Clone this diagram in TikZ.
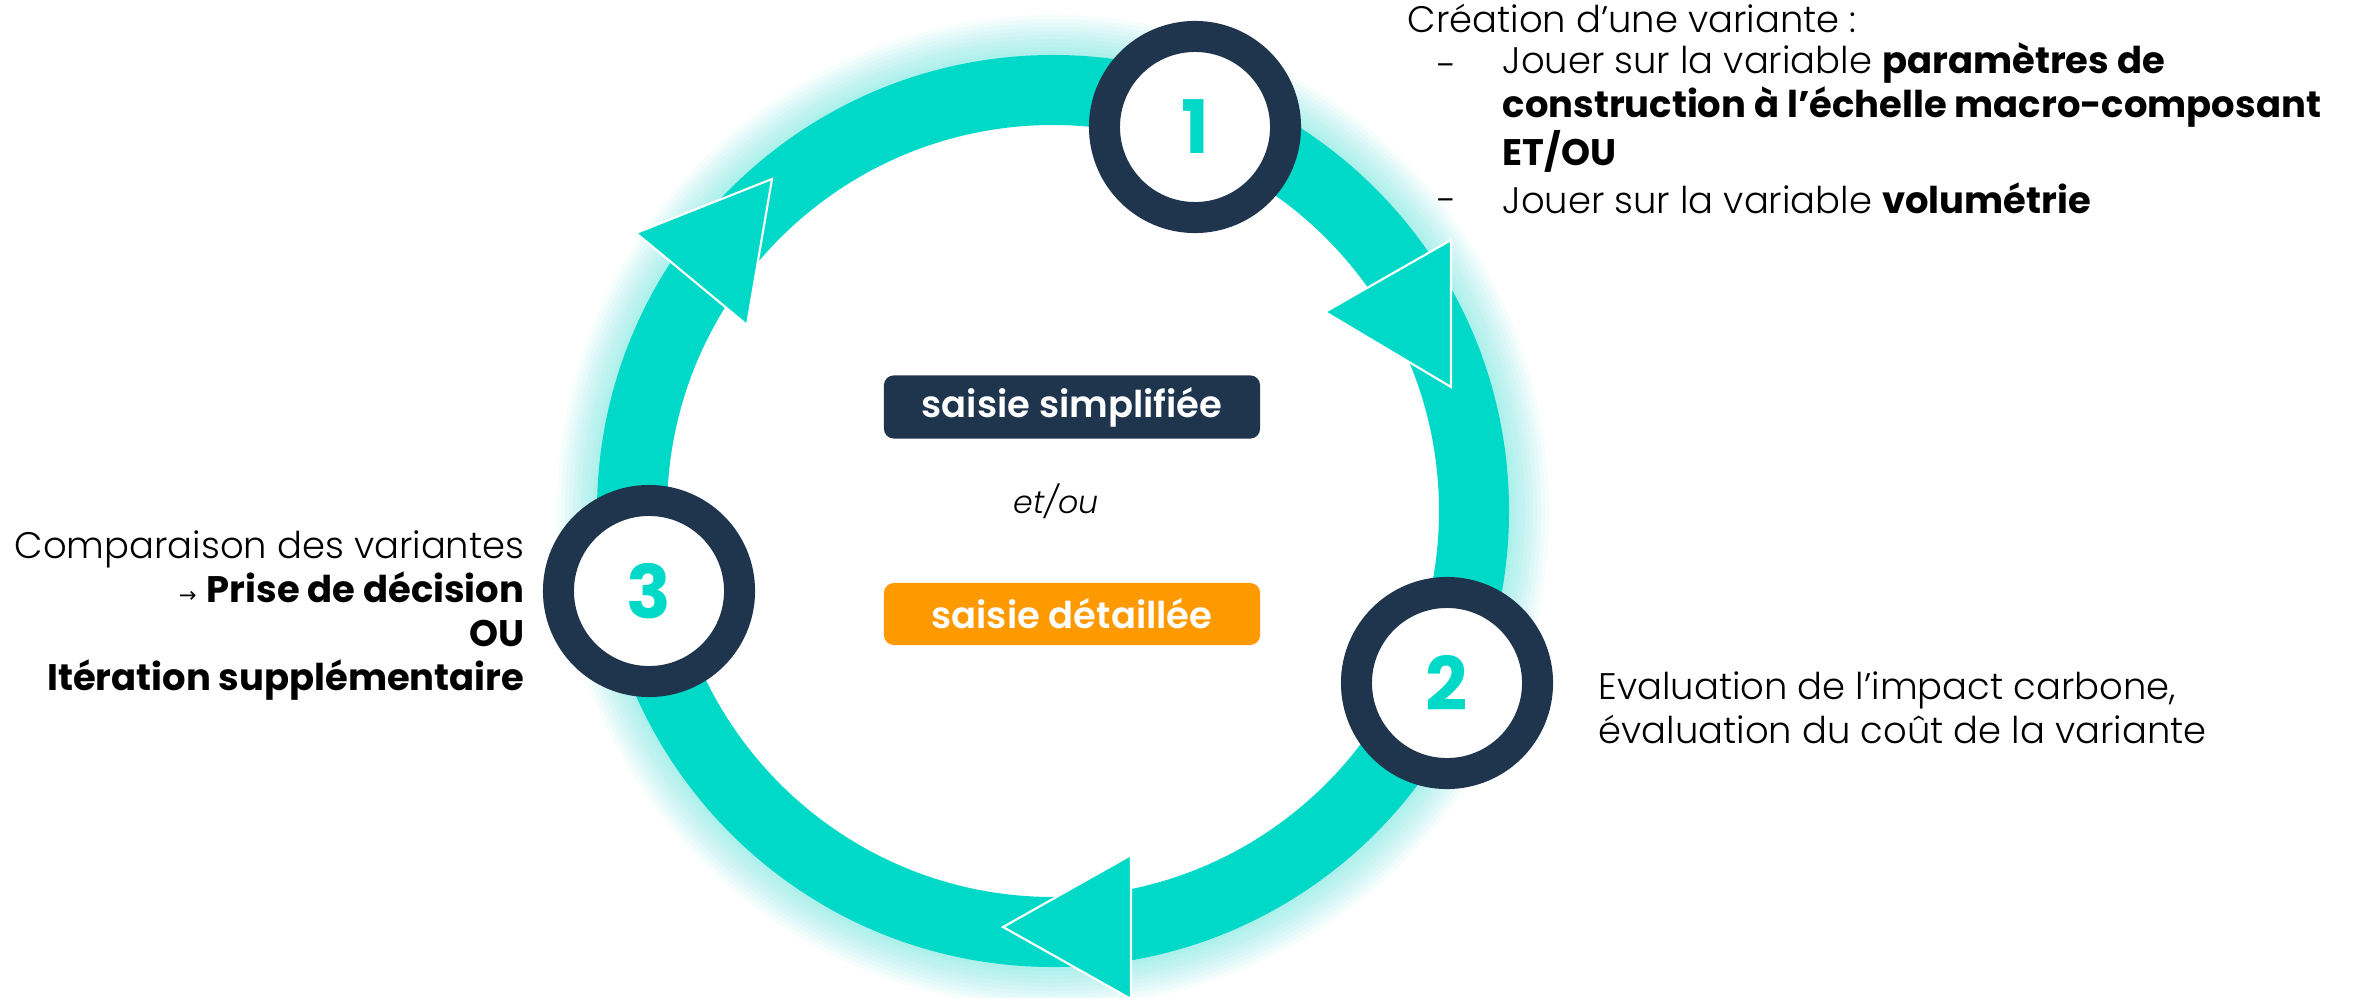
\documentclass[tikz,border=0pt]{standalone}
\usepackage{fontspec}
\setmainfont{Poppins}[UprightFont=* Light, BoldFont=* Bold, ItalicFont=* Light Italic]
\newfontfamily\boxfont{Poppins SemiBold}
\newfontfamily\arrowfont{DejaVu Sans}
\usepackage{tikz}

\definecolor{ringcyan}{RGB}{0,217,200}
\definecolor{navy}{RGB}{31,52,77}
\definecolor{saisieorange}{RGB}{255,153,0}

\begin{document}
\begin{tikzpicture}[x=0.01cm, y=-0.01cm,
    % text attributes
    txt/.style = {font=\fontsize{10.5}{12.5}\selectfont, inner sep=0pt},
    % step circles
    etape/.style = {
        shape=circle,
        draw=navy,
        line width=0.31cm,
        fill=white,
        minimum size=1.81cm,
        inner sep=0pt,
        text=ringcyan,
        font=\fontsize{21}{21}\selectfont\bfseries},
    % arrow heads on the ring
    pointe/.style = {fill=ringcyan, draw=white, line width=0.6pt},
    % input boxes
    saisie/.style = {
        rounded corners=0.1cm,
        minimum width=3.76cm,
        minimum height=0.62cm,
        text=white,
        font=\boxfont\fontsize{10.5}{10.5}\selectfont}]
    \useasboundingbox (0,0) rectangle (2358,997);
    \fill[white] (0,0) rectangle (2358,997);
    % glow and ring
    \foreach \w in {1,...,10}
        \draw[ringcyan, opacity=0.035, line width=\w*0.08cm] (1053,511) circle[radius=456];
    \draw[ringcyan, line width=0.7cm] (1053,511) circle[radius=421];
    % arrow heads
    \draw[pointe] (1325,312) -- (1451,240) -- (1451,387) -- cycle;
    \draw[pointe] (1003,927) -- (1131,855) -- (1131,999) -- cycle;
    \draw[pointe] (636,233) -- (772,179) -- (747,325) -- cycle;
    % steps
    \node[etape] (e1) at (1195,127) {1};
    \node[etape] (e2) at (1447,683) {2};
    \node[etape] (e3) at (649,591) {3};
    % centre
    \node[saisie, fill=navy] (simple) at (1072,407) {saisie simplifiée};
    \node[font=\itshape\fontsize{9}{9}\selectfont, inner sep=0pt, anchor=base] (etou) at (1056,513) {et/ou};
    \node[saisie, fill=saisieorange] (detail) at (1072,614) {saisie détaillée};
    % step 1 text
    \node[txt, anchor=base west] (crea) at (1407,33) {Création d’une variante :};
    \node[txt, anchor=base west] (tiret1) at (1437,79) {-};
    \node[txt, anchor=base west, align=left] (jouer1) at (1502,166)
        {Jouer sur la variable \textbf{paramètres de}\\
         \textbf{construction à l’échelle macro-composant}\\
         \textbf{ET/OU}};
    \node[txt, anchor=base west] (tiret2) at (1437,214) {-};
    \node[txt, anchor=base west] (jouer2) at (1502,214) {Jouer sur la variable \textbf{volumétrie}};
    % step 2 text
    \node[txt, anchor=base west, align=left] (evalu) at (1598,743)
        {Evaluation de l’impact carbone,\\
         évaluation du coût de la variante};
    % step 3 text
    \node[txt, anchor=base east, align=right] (compar) at (525,690)
        {Comparaison des variantes\\
         {\arrowfont\fontsize{6}{6}\selectfont →} \textbf{Prise de décision}\\
         \textbf{OU}\\
         \textbf{Itération supplémentaire}};
\end{tikzpicture}
\end{document}
